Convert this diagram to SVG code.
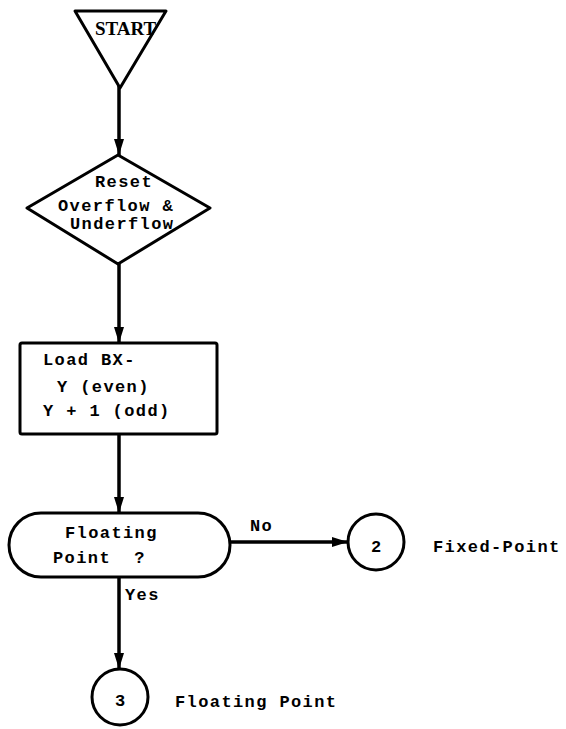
<svg xmlns="http://www.w3.org/2000/svg" width="566" height="729" viewBox="0 0 566 729">
<defs>
<marker id="ah" markerUnits="userSpaceOnUse" markerWidth="18" markerHeight="12" refX="16" refY="5" orient="auto">
<path d="M0,0 L16,5 L0,10 z" fill="#000"/>
</marker>
<style>
.s{fill:#fff;stroke:#000;stroke-width:3;stroke-linejoin:round}
.c{fill:none;stroke:#000;stroke-width:3.5}
.m{font-family:"Liberation Mono",monospace;font-size:17px;letter-spacing:1.4px;fill:#000;font-weight:bold;white-space:pre}
.r{font-family:"Liberation Serif",serif;font-size:19px;fill:#000;font-weight:bold}
</style>
</defs>
<rect width="566" height="729" fill="#fff"/>
<g id="connectors">
<line class="c" x1="119" y1="86" x2="119" y2="155" marker-end="url(#ah)"/>
<line class="c" x1="119" y1="264" x2="119" y2="343" marker-end="url(#ah)"/>
<line class="c" x1="119" y1="434" x2="119" y2="513" marker-end="url(#ah)"/>
<line class="c" x1="230" y1="542" x2="348" y2="542" marker-end="url(#ah)"/>
<line class="c" x1="119" y1="577" x2="119" y2="669" marker-end="url(#ah)"/>
<text class="m" x="250" y="531">No</text>
<text class="m" x="125" y="600">Yes</text>
</g>
<g id="start">
<path class="s" d="M75,11 L166,11 L120,88 Z"/>
<text class="r" x="95" y="35">START</text>
</g>
<g id="reset">
<path class="s" d="M118,155 L210,208 L118,264 L27,208 Z"/>
<text class="m" x="95" y="187">Reset</text>
<text class="m" x="58" y="211">Overflow &amp;</text>
<text class="m" x="70" y="229">Underflow</text>
</g>
<g id="load">
<rect class="s" x="20" y="343" width="197" height="91" rx="2"/>
<text class="m" x="43" y="365">Load BX-</text>
<text class="m" x="57" y="392">Y (even)</text>
<text class="m" x="43" y="416">Y + 1 (odd)</text>
</g>
<g id="decision">
<rect class="s" x="9" y="513" width="221" height="64" rx="32"/>
<text class="m" x="65" y="538">Floating</text>
<text class="m" x="53" y="563" xml:space="preserve">Point  ?</text>
</g>
<g id="conn2">
<circle class="s" cx="376" cy="542" r="28"/>
<text class="m" x="371" y="552">2</text>
<text class="m" x="433" y="552">Fixed-Point</text>
</g>
<g id="conn3">
<circle class="s" cx="120" cy="697" r="28"/>
<text class="m" x="115" y="706">3</text>
<text class="m" x="175" y="707">Floating Point</text>
</g>
</svg>
